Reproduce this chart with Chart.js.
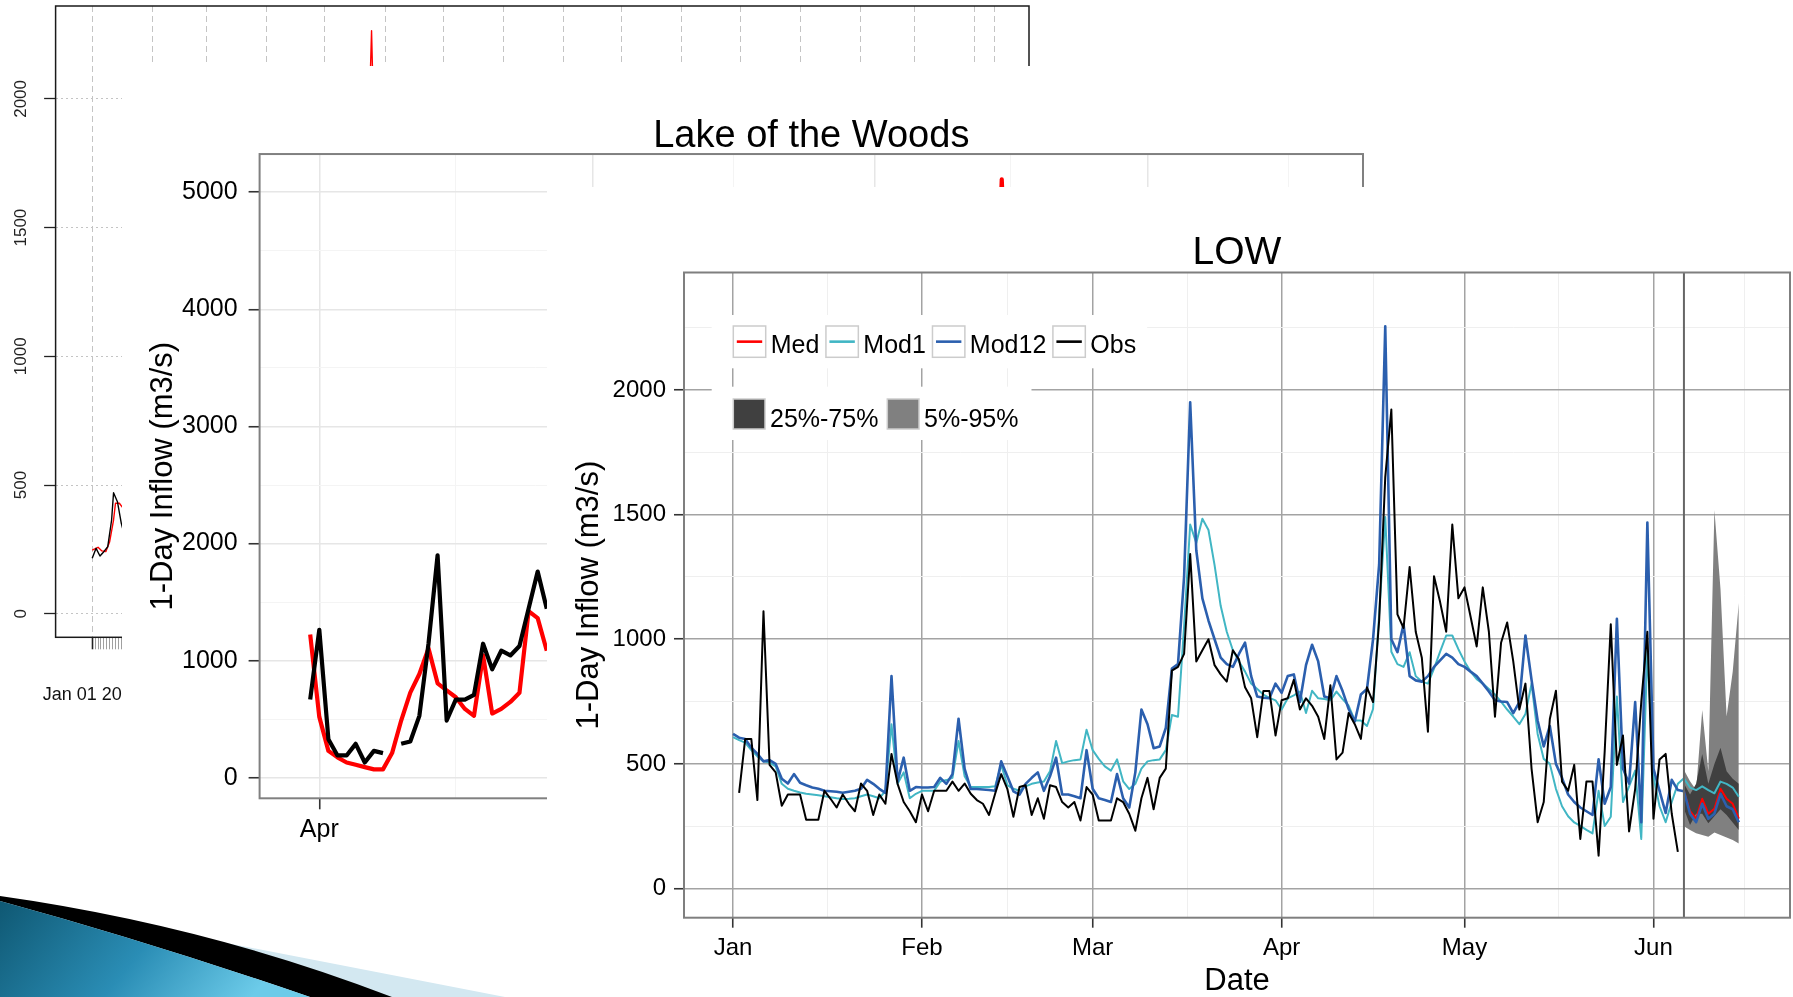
<!DOCTYPE html>
<html>
<head>
<meta charset="utf-8">
<script src="https://cdn.jsdelivr.net/npm/chart.js@4.4.1/dist/chart.umd.min.js"></script>
<style>
html,body{margin:0;padding:0;background:#fff;width:1793px;height:997px;overflow:hidden;}
.panel{position:absolute;background:#fff;}
#p1{left:0;top:0;width:1040px;height:720px;z-index:1;}
#p2{left:122px;top:66px;width:1258px;height:804px;z-index:2;}
#p3{left:547px;top:187px;width:1246px;height:810px;z-index:3;}
canvas{display:block;}
#deco{position:absolute;left:0;top:0;z-index:10;pointer-events:none;}
</style>
</head>
<body>
<div class="panel" id="p1"><canvas id="c1" width="1040" height="720"></canvas></div>
<div class="panel" id="p2"><canvas id="c2" width="1258" height="804"></canvas></div>
<div class="panel" id="p3"><canvas id="c3" width="1246" height="810"></canvas></div>
<svg id="deco" width="1793" height="997" viewBox="0 0 1793 997">
  <defs>
    <linearGradient id="tg" x1="0" y1="0" x2="1" y2="0.25">
      <stop offset="0" stop-color="#0f5873"/>
      <stop offset="0.55" stop-color="#2a8db5"/>
      <stop offset="1" stop-color="#6ccbe9"/>
    </linearGradient>
  </defs>
  <path d="M0,899 L505,997 L0,997 Z" fill="#d3e8f1"/>
  <path d="M0,896 Q205,925 392,997 L310,997 Q150,942 0,901 Z" fill="#000"/>
  <path d="M0,901 Q150,942 310,997 L0,997 Z" fill="url(#tg)"/>
</svg>
<script>
// ================= DATA =================
// ---- Chart 3 : "LOW" (day 0 = Jan 1) ----
const monthDays3   = [0, 31, 59, 90, 120, 151];
const monthLabels3 = ['Jan', 'Feb', 'Mar', 'Apr', 'May', 'Jun'];
const midMonthDays3 = [15.5, 45, 74.5, 105, 135.5, 166];
const yMajor3 = [0, 500, 1000, 1500, 2000];
const yMinor3 = [250, 750, 1250, 1750, 2250];

const obs3 = [null,384,600,600,355,1112,496,466,332,377,
  377,377,276,276,276,392,360,325,377,340,
  310,421,392,295,377,340,540,420,347,310,
  266,377,310,392,392,392,429,392,421,380,
  355,340,295,380,459,400,288,407,414,295,
  362,280,414,407,347,325,347,273,407,377,
  273,273,273,362,347,300,232,362,444,318,
  444,481,874,889,941,1342,911,956,1000,896,
  859,830,956,919,807,763,607,792,792,614,
  755,763,837,718,763,733,689,600,815,518,
  545,704,659,600,807,748,1075,1650,1921,1100,
  1045,1290,1030,926,629,1253,1149,1030,1460,1164,
  1208,1090,971,1208,1030,689,986,1067,911,718,
  822,481,266,347,680,793,429,392,496,199,
  429,429,132,550,1060,496,614,229,400,748,
  1030,280,518,540,300,147];

const mod12 = [620,605,600,565,540,510,515,500,440,421,
  459,424,414,405,400,392,390,388,384,388,
  392,400,436,420,400,384,852,430,525,392,
  407,405,405,407,444,420,459,681,480,399,
  399,397,395,392,510,450,390,377,420,444,
  466,392,450,525,377,377,370,362,555,400,
  362,355,347,459,362,325,466,718,659,563,
  570,644,882,900,1250,1950,1357,1164,1075,1000,
  926,900,889,941,986,852,770,765,763,822,
  785,852,859,748,896,978,911,770,763,852,
  792,720,670,778,800,1000,1300,2255,1000,948,
  1060,852,835,830,852,889,915,941,926,900,
  889,870,852,822,790,755,750,748,704,748,
  1015,837,674,570,652,500,444,377,347,325,
  310,295,518,340,407,1082,481,421,748,266,
  1468,481,392,303,436,395];

const mod1 = [607,595,585,555,530,510,505,490,420,400,
  392,385,380,377,374,370,366,362,359,360,
  362,370,377,370,362,392,659,420,466,362,
  380,392,392,392,429,435,444,592,450,407,
  407,407,407,410,496,415,400,392,410,420,
  425,429,470,592,503,510,515,518,637,555,
  520,490,473,518,430,399,420,481,510,515,
  518,555,696,689,1050,1460,1386,1483,1438,1297,
  1134,1030,956,911,870,822,800,778,765,755,
  718,763,775,790,704,793,763,760,755,790,
  760,733,674,674,652,720,1100,1490,950,900,
  889,948,852,830,822,882,950,1015,1015,960,
  911,870,840,822,800,778,750,718,690,659,
  700,822,620,520,500,400,330,290,265,251,
  235,221,392,251,288,770,347,410,473,199,
  956,450,330,266,347,420];

// forecast period (day 156 .. 165)
const forecastStart = 156;
const medFc   = [390, 310, 280, 360, 300, 320, 400, 360, 340, 280];
const mod1Fc  = [442, 405, 395, 410, 395, 382, 429, 420, 405, 368];
const mod12Fc = [390, 300, 266, 340, 280, 300, 380, 330, 318, 266];
const q05 = [250, 235, 222, 215, 208, 225, 215, 205, 195, 181];
const q25 = [320, 255, 300, 300, 262, 290, 318, 295, 265, 235];
const q75 = [421, 377, 420, 540, 420, 500, 565, 470, 440, 420];
const q95 = [475, 430, 395, 716, 470, 1518, 1200, 690, 870, 1145];

const lineNames  = ['Med', 'Mod1', 'Mod12', 'Obs'];
const lineColors = ['#ff0000', '#41b6c4', '#2b5fae', '#000000'];
const bandNames  = ['25%-75%', '5%-95%'];
const bandColors = ['#404040', '#808080'];

// ---- Chart 2 : "Lake of the Woods" (day 0 = Apr 1) ----
const monthDays2   = [0, 30, 61, 91];
const monthLabels2 = ['Apr', 'May', 'Jun', 'Jul'];
const midMonthDays2 = [15, 45.5, 76, 106.5];
const yMajor2 = [0, 1000, 2000, 3000, 4000, 5000];
const yMinor2 = [500, 1500, 2500, 3500, 4500];
const days2 = [-1,0,1,2,3,4,5,6,7,8,9,10,11,12,13,14,15,16,17,18,19,20,21,22,23,24,25];
const obs2 = [668,1264,330,191,191,290,131,230,211,null,290,310,529,1145,1900,489,668,668,708,1145,926,1085,1045,1125,1443,1761,1443];
const med2 = [1224,520,230,175,131,111,91,72,72,211,489,727,886,1105,807,747,688,588,529,1045,549,588,648,727,1423,1363,1085];
const med2PeakDays = [74, 75, 76];
const med2Peak = [3000, 5110, 3200];

// ---- Chart 1 : background plot (day 0 = Jan 01) ----
const yTicks1 = [0, 500, 1000, 1500, 2000];
const monthGridDays1 = [0,31,59,90,120,151,181,212,243,273,304,334,365,396,424,455,465];
const tickDays1 = [0,1.5,3,4.5,6,7.5,9,10.5,12,13.5,15,16.5];
const firstDateLabel1 = 'Jan 01 2013';
const obs1Days = [0,2,4,6,8,10,11,13,15,17];
const obs1 = [215,254,224,241,260,364,470,435,351,293];
const med1Days = [0,3,5,7,9,11,12,14,16,17,143,144,145];
const med1 = [247,258,244,241,280,364,429,429,409,null,2000,2265,1950];

// ================= HELPERS =================
const FONT = '"Liberation Sans", Arial, Helvetica, sans-serif';
Chart.defaults.font.family = FONT;
Chart.defaults.color = '#000';

const seq = (arr, start) => arr.map((v, i) => ({x: start + i, y: v}));
const pairs = (xs, ys) => xs.map((x, i) => ({x: x, y: ys[i]}));
function fixW(w) { return s => { s.width = w; s.paddingTop = 0; s.paddingBottom = 0; s.paddingLeft = 0; s.paddingRight = 0; }; }
function fixH(h) { return s => { s.height = h; s.paddingTop = 0; s.paddingBottom = 0; s.paddingLeft = 0; s.paddingRight = 0; }; }
const setTicks = vals => s => { s.ticks = vals.slice().sort((a, b) => a - b).map(v => ({value: v})); };
const TRANSP = 'rgba(0,0,0,0)';

// panel border + ggplot-like legend
const ggPanel = {
  id: 'ggPanel',
  afterDatasetsDraw(chart, args, opts) {
    const ctx = chart.ctx, a = chart.chartArea;
    ctx.save();
    ctx.strokeStyle = opts.borderColor || '#7f7f7f';
    ctx.lineWidth = opts.borderWidth || 2;
    ctx.strokeRect(a.left, a.top, a.right - a.left, a.bottom - a.top);
    if (opts.rows) {
      ctx.font = opts.fontSize + 'px ' + FONT;
      opts.rows.forEach(row => {
        let x = row.x + row.padL;
        const items = row.items.map(it => {
          const w = ctx.measureText(it.label).width;
          const o = {it: it, kx: x, tx: x + row.keyW + row.gapKT, w: w};
          x = o.tx + w + row.gapItem;
          return o;
        });
        const last = items[items.length - 1];
        const right = last.tx + last.w + row.padR;
        ctx.fillStyle = '#fff';
        ctx.fillRect(row.x, row.y, right - row.x, row.h);
        items.forEach(o => {
          const ky = row.keyY;
          if (o.it.type === 'line') {
            ctx.fillStyle = '#fff';
            ctx.fillRect(o.kx, ky, row.keyW, row.keyH);
          } else {
            ctx.fillStyle = o.it.color;
            ctx.fillRect(o.kx, ky, row.keyW, row.keyH);
          }
          ctx.strokeStyle = '#cccccc';
          ctx.lineWidth = 1.5;
          ctx.strokeRect(o.kx, ky, row.keyW, row.keyH);
          if (o.it.type === 'line') {
            ctx.strokeStyle = o.it.color;
            ctx.lineWidth = 2.6;
            ctx.beginPath();
            ctx.moveTo(o.kx + 3.5, ky + row.keyH / 2);
            ctx.lineTo(o.kx + row.keyW - 3.5, ky + row.keyH / 2);
            ctx.stroke();
          }
          ctx.fillStyle = '#000';
          ctx.textBaseline = 'alphabetic';
          ctx.textAlign = 'left';
          ctx.fillText(o.it.label, o.tx, row.baseline);
        });
      });
    }
    ctx.restore();
  }
};

const baseOpts = {
  responsive: false, animation: false, devicePixelRatio: 1, events: [],
  elements: { point: { radius: 0, hoverRadius: 0 }, line: { tension: 0, borderJoinStyle: 'round', fill: false } },
};

// ================= CHART 1 =================
new Chart(document.getElementById('c1'), {
  type: 'line',
  data: { datasets: [
    { label: 'obs', data: pairs(obs1Days, obs1), borderColor: '#000', borderWidth: 1.4 },
    { label: 'med', data: pairs(med1Days, med1), borderColor: '#ff0000', borderWidth: 1.4 }
  ]},
  plugins: [ggPanel],
  options: Object.assign({}, baseOpts, {
    layout: { padding: { left: 0, right: 11, top: 6, bottom: 0 } },
    plugins: { legend: { display: false }, tooltip: { enabled: false }, title: { display: false },
      ggPanel: { borderColor: '#1a1a1a', borderWidth: 1.5 } },
    scales: {
      x: {
        type: 'linear', min: -18.87, max: 482.9, position: 'bottom',
        afterBuildTicks: setTicks(monthGridDays1), afterFit: fixH(0),
        ticks: { display: false },
        grid: { color: '#c4c4c4', lineWidth: 1, drawTicks: false, borderDash: [6, 4] },
        border: { display: false, dash: [6, 4] }
      },
      x2: {
        type: 'linear', min: -18.87, max: 482.9, position: 'bottom',
        afterBuildTicks: setTicks(tickDays1), afterFit: fixH(82.7),
        ticks: { autoSkip: false, maxRotation: 0, minRotation: 0, padding: 35, font: { size: 18 }, color: '#111',
          callback: v => (v === 0 ? firstDateLabel1 : '') },
        grid: { drawOnChartArea: false, drawTicks: true, tickLength: 12,
          tickColor: c => (c.tick && c.tick.value === 0 ? '#222' : '#a0a0a0'),
          tickWidth: c => (c.tick && c.tick.value === 0 ? 1.6 : 1) },
        border: { display: false }
      },
      y: {
        type: 'linear', min: -91.7, max: 2361,
        afterBuildTicks: setTicks(yTicks1), afterFit: fixW(55.6),
        ticks: { minRotation: 90, maxRotation: 90, crossAlign: 'center', padding: 3.6, font: { size: 17 }, color: '#222',
          callback: v => String(v) },
        grid: { color: '#c4c4c4', lineWidth: 1, borderDash: [2, 3], tickLength: 11.5, tickColor: '#222', tickWidth: 1.3, tickBorderDash: [] },
        border: { display: false, dash: [2, 3] }
      }
    }
  })
});

// ================= CHART 2 =================
new Chart(document.getElementById('c2'), {
  type: 'line',
  data: { datasets: [
    { label: 'Obs', data: pairs(days2, obs2), borderColor: '#000', borderWidth: 4.2 },
    { label: 'Med', data: pairs(days2, med2).concat([{x: 26, y: null}], pairs(med2PeakDays, med2Peak)), borderColor: '#ff0000', borderWidth: 4.2 }
  ]},
  plugins: [ggPanel],
  options: Object.assign({}, baseOpts, {
    layout: { padding: { left: 0, right: 17, top: 0, bottom: 0 } },
    plugins: { legend: { display: false }, tooltip: { enabled: false },
      title: { display: true, fullSize: false, text: 'Lake of the Woods', color: '#000', font: { size: 38, weight: 'normal', lineHeight: 0.93 }, padding: { top: 52.7, bottom: 0 } },
      ggPanel: { borderColor: '#808080', borderWidth: 2 } },
    scales: {
      x: {
        type: 'linear', min: -6.56, max: 114.7,
        afterBuildTicks: setTicks(monthDays2.concat(midMonthDays2)), afterFit: fixH(71.7),
        ticks: { autoSkip: false, maxRotation: 0, minRotation: 0, padding: 6, font: { size: 25 }, color: '#000',
          callback: v => { const i = monthDays2.indexOf(v); return i >= 0 ? monthLabels2[i] : ''; } },
        grid: {
          color: c => (c.tick && monthDays2.includes(c.tick.value) ? '#e6e6e6' : '#f4f4f4'),
          lineWidth: c => (c.tick && monthDays2.includes(c.tick.value) ? 1.5 : 1),
          tickColor: c => (c.tick && monthDays2.includes(c.tick.value) ? '#333' : TRANSP),
          tickLength: 11, tickWidth: 1.6 },
        border: { display: false }
      },
      y: {
        type: 'linear', min: -175, max: 5326,
        afterBuildTicks: setTicks(yMajor2.concat(yMinor2)), afterFit: fixW(137.6),
        ticks: { padding: 11, font: { size: 25 }, color: '#000',
          callback: v => (yMajor2.includes(v) ? String(v) : '') },
        grid: {
          color: c => (c.tick && yMajor2.includes(c.tick.value) ? '#e6e6e6' : '#f4f4f4'),
          lineWidth: c => (c.tick && yMajor2.includes(c.tick.value) ? 1.5 : 1),
          tickColor: c => (c.tick && yMajor2.includes(c.tick.value) ? '#333' : TRANSP),
          tickLength: 11, tickWidth: 1.6 },
        border: { display: false },
        title: { display: true, text: '1-Day Inflow (m3/s)', color: '#000', font: { size: 31 }, padding: { top: 22.7, bottom: 0 } }
      }
    }
  })
});

// ================= CHART 3 =================
const yMin3 = -117, yMax3 = 2471;
const majorX3 = v => monthDays3.includes(v);
const majorY3 = v => yMajor3.includes(v);
new Chart(document.getElementById('c3'), {
  type: 'line',
  data: { datasets: [
    { label: 'forecast', data: [{x: forecastStart, y: yMin3}, {x: forecastStart, y: yMax3}], borderColor: '#666666', borderWidth: 2 },
    { label: lineNames[3], data: seq(obs3, 0), borderColor: lineColors[3], borderWidth: 2 },
    { label: lineNames[2], data: seq(mod12.concat(mod12Fc), 0), borderColor: lineColors[2], borderWidth: 2.6 },
    { label: lineNames[1], data: seq(mod1.concat(mod1Fc), 0), borderColor: lineColors[1], borderWidth: 2 },
    { label: lineNames[0], data: seq(medFc, forecastStart), borderColor: lineColors[0], borderWidth: 2 },
    { label: 'q75', data: seq(q75, forecastStart), borderWidth: 0, borderColor: TRANSP, backgroundColor: bandColors[0], fill: '+1' },
    { label: 'q25', data: seq(q25, forecastStart), borderWidth: 0, borderColor: TRANSP },
    { label: 'q95', data: seq(q95, forecastStart), borderWidth: 0, borderColor: TRANSP, backgroundColor: bandColors[1], fill: '+1' },
    { label: 'q05', data: seq(q05, forecastStart), borderWidth: 0, borderColor: TRANSP }
  ]},
  plugins: [ggPanel],
  options: Object.assign({}, baseOpts, {
    layout: { padding: { left: 0, right: 3, top: 0, bottom: 0 } },
    plugins: { legend: { display: false }, tooltip: { enabled: false },
      title: { display: true, fullSize: false, text: 'LOW', color: '#000', font: { size: 39, weight: 'normal', lineHeight: 0.95 }, padding: { top: 47.4, bottom: 1.05 } },
      ggPanel: {
        borderColor: '#7f7f7f', borderWidth: 2, fontSize: 25,
        rows: [
          { x: 164.7, y: 128, h: 53.3, padL: 21.6, padR: 11, keyW: 32.4, keyH: 31.3, keyY: 139, gapKT: 5, gapItem: 6.6, baseline: 165.7,
            items: lineNames.map((n, i) => ({ type: 'line', label: n, color: lineColors[i] })) },
          { x: 164.7, y: 199.7, h: 53.3, padL: 21.6, padR: 13, keyW: 31.7, keyH: 30, keyY: 212, gapKT: 5, gapItem: 8.9, baseline: 239.7,
            items: bandNames.map((n, i) => ({ type: 'fill', label: n, color: bandColors[i] })) }
        ]
      } },
    scales: {
      x: {
        type: 'linear', min: -8.04, max: 173.4,
        afterBuildTicks: setTicks(monthDays3.concat(midMonthDays3)), afterFit: fixH(79.3),
        ticks: { autoSkip: false, maxRotation: 0, minRotation: 0, padding: 6, font: { size: 24 }, color: '#000',
          callback: v => { const i = monthDays3.indexOf(v); return i >= 0 ? monthLabels3[i] : ''; } },
        grid: {
          color: c => (c.tick && majorX3(c.tick.value) ? '#a3a3a3' : '#efefef'),
          lineWidth: c => (c.tick && majorX3(c.tick.value) ? 1.5 : 1),
          tickColor: c => (c.tick && majorX3(c.tick.value) ? '#333' : TRANSP),
          tickLength: 10, tickWidth: 1.6 },
        border: { display: false },
        title: { display: true, text: 'Date', color: '#000', font: { size: 31, lineHeight: 1.0 }, padding: { top: 0, bottom: 0 } }
      },
      y: {
        type: 'linear', min: yMin3, max: yMax3,
        afterBuildTicks: setTicks(yMajor3.concat(yMinor3)), afterFit: fixW(137),
        ticks: { padding: 8, font: { size: 24 }, color: '#000',
          callback: v => (majorY3(v) ? String(v) : '') },
        grid: {
          color: c => (c.tick && majorY3(c.tick.value) ? '#a3a3a3' : '#efefef'),
          lineWidth: c => (c.tick && majorY3(c.tick.value) ? 1.5 : 1),
          tickColor: c => (c.tick && majorY3(c.tick.value) ? '#333' : TRANSP),
          tickLength: 10, tickWidth: 1.6 },
        border: { display: false },
        title: { display: true, text: '1-Day Inflow (m3/s)', color: '#000', font: { size: 31 }, padding: { top: 23.9, bottom: 0 } }
      }
    }
  })
});
</script>
</body>
</html>
